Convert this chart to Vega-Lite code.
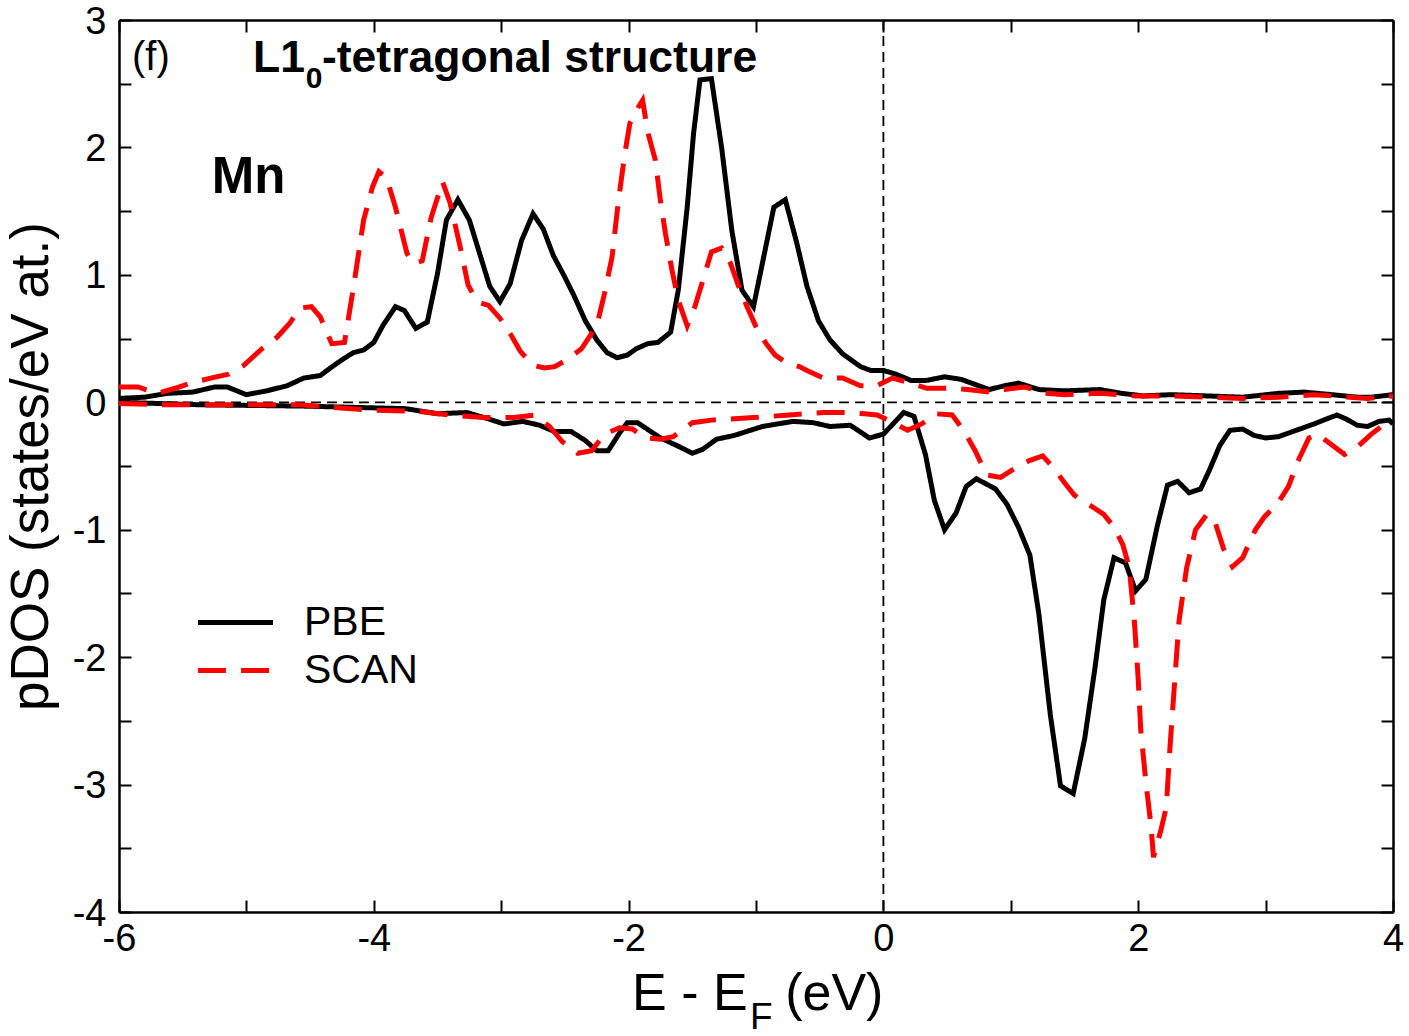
{
  "$schema": "https://vega.github.io/schema/vega-lite/v6.json",
  "width": 1274,
  "height": 892,
  "autosize": {"type": "none"},
  "padding": {"left": 119, "top": 20, "right": 16, "bottom": 124},
  "background": "white",
  "config": {
    "view": {"stroke": null},
    "font": "Liberation Sans",
    "axis": {
      "grid": false,
      "domainColor": "black",
      "domainWidth": 2.5,
      "tickColor": "black",
      "tickWidth": 2,
      "tickSize": -12,
      "labelFont": "Liberation Sans",
      "labelFontSize": 38,
      "labelColor": "black",
      "labelFlush": false,
      "labelOverlap": false,
      "labelBound": false,
      "titleFont": "Liberation Sans",
      "titleFontWeight": "normal",
      "titleColor": "black"
    },
    "legend": {
      "title": null,
      "orient": "none",
      "legendX": 96,
      "legendY": 582,
      "symbolType": "M-2.5,0H2.5",
      "symbolSize": 900,
      "symbolStrokeWidth": 5,
      "labelFont": "Liberation Sans",
      "labelFontSize": 41,
      "labelColor": "black",
      "labelOffset": 48,
      "rowPadding": 6
    }
  },
  "layer": [
    {
      "data": {"values": [{}]},
      "mark": {"type": "rule", "color": "black", "strokeWidth": 1.8, "strokeDash": [10, 6]},
      "encoding": {
        "y": {
          "datum": 0,
          "type": "quantitative",
          "scale": {"domain": [-4, 3], "nice": false, "zero": false},
          "axis": {
            "orient": "right",
            "values": [-4, -3.5, -3, -2.5, -2, -1.5, -1, -0.5, 0, 0.5, 1, 1.5, 2, 2.5, 3],
            "labels": false,
            "title": null
          }
        }
      }
    },
    {
      "data": {"values": [{}]},
      "mark": {"type": "rule", "color": "black", "strokeWidth": 1.8, "strokeDash": [10, 6]},
      "encoding": {
        "x": {
          "datum": 0,
          "type": "quantitative",
          "scale": {"domain": [-6, 4], "nice": false, "zero": false},
          "axis": {
            "orient": "top",
            "values": [-6, -5, -4, -3, -2, -1, 0, 1, 2, 3, 4],
            "labels": false,
            "title": null
          }
        }
      }
    },
    {
      "data": {
        "values": [
          {"E": -6.0, "pdos": 0.03, "method": "PBE", "spin": "up"},
          {"E": -5.8, "pdos": 0.04, "method": "PBE", "spin": "up"},
          {"E": -5.62, "pdos": 0.07, "method": "PBE", "spin": "up"},
          {"E": -5.42, "pdos": 0.08, "method": "PBE", "spin": "up"},
          {"E": -5.25, "pdos": 0.12, "method": "PBE", "spin": "up"},
          {"E": -5.15, "pdos": 0.12, "method": "PBE", "spin": "up"},
          {"E": -5.0, "pdos": 0.06, "method": "PBE", "spin": "up"},
          {"E": -4.84, "pdos": 0.09, "method": "PBE", "spin": "up"},
          {"E": -4.68, "pdos": 0.13, "method": "PBE", "spin": "up"},
          {"E": -4.55, "pdos": 0.19, "method": "PBE", "spin": "up"},
          {"E": -4.42, "pdos": 0.21, "method": "PBE", "spin": "up"},
          {"E": -4.34, "pdos": 0.27, "method": "PBE", "spin": "up"},
          {"E": -4.24, "pdos": 0.34, "method": "PBE", "spin": "up"},
          {"E": -4.16, "pdos": 0.39, "method": "PBE", "spin": "up"},
          {"E": -4.08, "pdos": 0.41, "method": "PBE", "spin": "up"},
          {"E": -4.0, "pdos": 0.47, "method": "PBE", "spin": "up"},
          {"E": -3.93, "pdos": 0.6, "method": "PBE", "spin": "up"},
          {"E": -3.83, "pdos": 0.75, "method": "PBE", "spin": "up"},
          {"E": -3.76, "pdos": 0.72, "method": "PBE", "spin": "up"},
          {"E": -3.67, "pdos": 0.58, "method": "PBE", "spin": "up"},
          {"E": -3.58, "pdos": 0.63, "method": "PBE", "spin": "up"},
          {"E": -3.5, "pdos": 1.01, "method": "PBE", "spin": "up"},
          {"E": -3.43, "pdos": 1.43, "method": "PBE", "spin": "up"},
          {"E": -3.34, "pdos": 1.59, "method": "PBE", "spin": "up"},
          {"E": -3.25, "pdos": 1.43, "method": "PBE", "spin": "up"},
          {"E": -3.17, "pdos": 1.17, "method": "PBE", "spin": "up"},
          {"E": -3.09, "pdos": 0.91, "method": "PBE", "spin": "up"},
          {"E": -3.01, "pdos": 0.79, "method": "PBE", "spin": "up"},
          {"E": -2.93, "pdos": 0.93, "method": "PBE", "spin": "up"},
          {"E": -2.84, "pdos": 1.27, "method": "PBE", "spin": "up"},
          {"E": -2.75, "pdos": 1.48, "method": "PBE", "spin": "up"},
          {"E": -2.67, "pdos": 1.36, "method": "PBE", "spin": "up"},
          {"E": -2.59, "pdos": 1.15, "method": "PBE", "spin": "up"},
          {"E": -2.51, "pdos": 1.0, "method": "PBE", "spin": "up"},
          {"E": -2.43, "pdos": 0.84, "method": "PBE", "spin": "up"},
          {"E": -2.34, "pdos": 0.64, "method": "PBE", "spin": "up"},
          {"E": -2.25, "pdos": 0.49, "method": "PBE", "spin": "up"},
          {"E": -2.17, "pdos": 0.39, "method": "PBE", "spin": "up"},
          {"E": -2.09, "pdos": 0.35, "method": "PBE", "spin": "up"},
          {"E": -2.01, "pdos": 0.37, "method": "PBE", "spin": "up"},
          {"E": -1.94, "pdos": 0.42, "method": "PBE", "spin": "up"},
          {"E": -1.85, "pdos": 0.46, "method": "PBE", "spin": "up"},
          {"E": -1.77, "pdos": 0.47, "method": "PBE", "spin": "up"},
          {"E": -1.67, "pdos": 0.55, "method": "PBE", "spin": "up"},
          {"E": -1.61, "pdos": 0.88, "method": "PBE", "spin": "up"},
          {"E": -1.54, "pdos": 1.53, "method": "PBE", "spin": "up"},
          {"E": -1.49, "pdos": 2.11, "method": "PBE", "spin": "up"},
          {"E": -1.44, "pdos": 2.53, "method": "PBE", "spin": "up"},
          {"E": -1.35, "pdos": 2.54, "method": "PBE", "spin": "up"},
          {"E": -1.27, "pdos": 2.0, "method": "PBE", "spin": "up"},
          {"E": -1.19, "pdos": 1.35, "method": "PBE", "spin": "up"},
          {"E": -1.11, "pdos": 0.88, "method": "PBE", "spin": "up"},
          {"E": -1.02, "pdos": 0.75, "method": "PBE", "spin": "up"},
          {"E": -0.95, "pdos": 1.09, "method": "PBE", "spin": "up"},
          {"E": -0.86, "pdos": 1.53, "method": "PBE", "spin": "up"},
          {"E": -0.77, "pdos": 1.59, "method": "PBE", "spin": "up"},
          {"E": -0.68, "pdos": 1.25, "method": "PBE", "spin": "up"},
          {"E": -0.6, "pdos": 0.91, "method": "PBE", "spin": "up"},
          {"E": -0.51, "pdos": 0.64, "method": "PBE", "spin": "up"},
          {"E": -0.42, "pdos": 0.49, "method": "PBE", "spin": "up"},
          {"E": -0.32, "pdos": 0.38, "method": "PBE", "spin": "up"},
          {"E": -0.25, "pdos": 0.33, "method": "PBE", "spin": "up"},
          {"E": -0.18, "pdos": 0.28, "method": "PBE", "spin": "up"},
          {"E": -0.1, "pdos": 0.25, "method": "PBE", "spin": "up"},
          {"E": 0.0, "pdos": 0.25, "method": "PBE", "spin": "up"},
          {"E": 0.1, "pdos": 0.22, "method": "PBE", "spin": "up"},
          {"E": 0.22, "pdos": 0.17, "method": "PBE", "spin": "up"},
          {"E": 0.33, "pdos": 0.17, "method": "PBE", "spin": "up"},
          {"E": 0.48, "pdos": 0.2, "method": "PBE", "spin": "up"},
          {"E": 0.61, "pdos": 0.18, "method": "PBE", "spin": "up"},
          {"E": 0.72, "pdos": 0.14, "method": "PBE", "spin": "up"},
          {"E": 0.83, "pdos": 0.1, "method": "PBE", "spin": "up"},
          {"E": 0.95, "pdos": 0.13, "method": "PBE", "spin": "up"},
          {"E": 1.06, "pdos": 0.15, "method": "PBE", "spin": "up"},
          {"E": 1.22, "pdos": 0.1, "method": "PBE", "spin": "up"},
          {"E": 1.42, "pdos": 0.09, "method": "PBE", "spin": "up"},
          {"E": 1.7, "pdos": 0.1, "method": "PBE", "spin": "up"},
          {"E": 1.87, "pdos": 0.07, "method": "PBE", "spin": "up"},
          {"E": 2.04, "pdos": 0.05, "method": "PBE", "spin": "up"},
          {"E": 2.26, "pdos": 0.06, "method": "PBE", "spin": "up"},
          {"E": 2.54, "pdos": 0.05, "method": "PBE", "spin": "up"},
          {"E": 2.82, "pdos": 0.04, "method": "PBE", "spin": "up"},
          {"E": 3.1, "pdos": 0.07, "method": "PBE", "spin": "up"},
          {"E": 3.3, "pdos": 0.08, "method": "PBE", "spin": "up"},
          {"E": 3.52, "pdos": 0.06, "method": "PBE", "spin": "up"},
          {"E": 3.72, "pdos": 0.04, "method": "PBE", "spin": "up"},
          {"E": 3.83, "pdos": 0.04, "method": "PBE", "spin": "up"},
          {"E": 4.0, "pdos": 0.06, "method": "PBE", "spin": "up"},

          {"E": -6.0, "pdos": 0.0, "method": "PBE", "spin": "down"},
          {"E": -5.35, "pdos": -0.02, "method": "PBE", "spin": "down"},
          {"E": -4.55, "pdos": -0.03, "method": "PBE", "spin": "down"},
          {"E": -3.75, "pdos": -0.05, "method": "PBE", "spin": "down"},
          {"E": -3.5, "pdos": -0.09, "method": "PBE", "spin": "down"},
          {"E": -3.27, "pdos": -0.08, "method": "PBE", "spin": "down"},
          {"E": -3.1, "pdos": -0.13, "method": "PBE", "spin": "down"},
          {"E": -2.98, "pdos": -0.17, "method": "PBE", "spin": "down"},
          {"E": -2.83, "pdos": -0.15, "method": "PBE", "spin": "down"},
          {"E": -2.7, "pdos": -0.18, "method": "PBE", "spin": "down"},
          {"E": -2.58, "pdos": -0.23, "method": "PBE", "spin": "down"},
          {"E": -2.45, "pdos": -0.23, "method": "PBE", "spin": "down"},
          {"E": -2.34, "pdos": -0.3, "method": "PBE", "spin": "down"},
          {"E": -2.25, "pdos": -0.38, "method": "PBE", "spin": "down"},
          {"E": -2.16, "pdos": -0.38, "method": "PBE", "spin": "down"},
          {"E": -2.07, "pdos": -0.24, "method": "PBE", "spin": "down"},
          {"E": -2.01, "pdos": -0.16, "method": "PBE", "spin": "down"},
          {"E": -1.93, "pdos": -0.16, "method": "PBE", "spin": "down"},
          {"E": -1.75, "pdos": -0.28, "method": "PBE", "spin": "down"},
          {"E": -1.62, "pdos": -0.34, "method": "PBE", "spin": "down"},
          {"E": -1.5, "pdos": -0.4, "method": "PBE", "spin": "down"},
          {"E": -1.42, "pdos": -0.37, "method": "PBE", "spin": "down"},
          {"E": -1.31, "pdos": -0.29, "method": "PBE", "spin": "down"},
          {"E": -1.17, "pdos": -0.26, "method": "PBE", "spin": "down"},
          {"E": -0.95, "pdos": -0.19, "method": "PBE", "spin": "down"},
          {"E": -0.71, "pdos": -0.15, "method": "PBE", "spin": "down"},
          {"E": -0.55, "pdos": -0.16, "method": "PBE", "spin": "down"},
          {"E": -0.42, "pdos": -0.19, "method": "PBE", "spin": "down"},
          {"E": -0.26, "pdos": -0.18, "method": "PBE", "spin": "down"},
          {"E": -0.11, "pdos": -0.28, "method": "PBE", "spin": "down"},
          {"E": 0.0, "pdos": -0.25, "method": "PBE", "spin": "down"},
          {"E": 0.16, "pdos": -0.08, "method": "PBE", "spin": "down"},
          {"E": 0.24, "pdos": -0.11, "method": "PBE", "spin": "down"},
          {"E": 0.33, "pdos": -0.41, "method": "PBE", "spin": "down"},
          {"E": 0.4, "pdos": -0.77, "method": "PBE", "spin": "down"},
          {"E": 0.48, "pdos": -1.0, "method": "PBE", "spin": "down"},
          {"E": 0.57, "pdos": -0.87, "method": "PBE", "spin": "down"},
          {"E": 0.65, "pdos": -0.66, "method": "PBE", "spin": "down"},
          {"E": 0.73, "pdos": -0.6, "method": "PBE", "spin": "down"},
          {"E": 0.88, "pdos": -0.68, "method": "PBE", "spin": "down"},
          {"E": 0.97, "pdos": -0.8, "method": "PBE", "spin": "down"},
          {"E": 1.06, "pdos": -0.98, "method": "PBE", "spin": "down"},
          {"E": 1.15, "pdos": -1.2, "method": "PBE", "spin": "down"},
          {"E": 1.22, "pdos": -1.66, "method": "PBE", "spin": "down"},
          {"E": 1.31, "pdos": -2.45, "method": "PBE", "spin": "down"},
          {"E": 1.39, "pdos": -3.01, "method": "PBE", "spin": "down"},
          {"E": 1.49, "pdos": -3.07, "method": "PBE", "spin": "down"},
          {"E": 1.58, "pdos": -2.64, "method": "PBE", "spin": "down"},
          {"E": 1.66, "pdos": -2.09, "method": "PBE", "spin": "down"},
          {"E": 1.73, "pdos": -1.55, "method": "PBE", "spin": "down"},
          {"E": 1.81, "pdos": -1.22, "method": "PBE", "spin": "down"},
          {"E": 1.9, "pdos": -1.26, "method": "PBE", "spin": "down"},
          {"E": 1.98, "pdos": -1.48, "method": "PBE", "spin": "down"},
          {"E": 2.06, "pdos": -1.39, "method": "PBE", "spin": "down"},
          {"E": 2.15, "pdos": -0.97, "method": "PBE", "spin": "down"},
          {"E": 2.23, "pdos": -0.65, "method": "PBE", "spin": "down"},
          {"E": 2.31, "pdos": -0.62, "method": "PBE", "spin": "down"},
          {"E": 2.4, "pdos": -0.71, "method": "PBE", "spin": "down"},
          {"E": 2.49, "pdos": -0.68, "method": "PBE", "spin": "down"},
          {"E": 2.56, "pdos": -0.53, "method": "PBE", "spin": "down"},
          {"E": 2.64, "pdos": -0.34, "method": "PBE", "spin": "down"},
          {"E": 2.72, "pdos": -0.22, "method": "PBE", "spin": "down"},
          {"E": 2.82, "pdos": -0.21, "method": "PBE", "spin": "down"},
          {"E": 2.91, "pdos": -0.26, "method": "PBE", "spin": "down"},
          {"E": 3.0, "pdos": -0.28, "method": "PBE", "spin": "down"},
          {"E": 3.1, "pdos": -0.27, "method": "PBE", "spin": "down"},
          {"E": 3.24, "pdos": -0.22, "method": "PBE", "spin": "down"},
          {"E": 3.38, "pdos": -0.17, "method": "PBE", "spin": "down"},
          {"E": 3.48, "pdos": -0.13, "method": "PBE", "spin": "down"},
          {"E": 3.56, "pdos": -0.1, "method": "PBE", "spin": "down"},
          {"E": 3.63, "pdos": -0.13, "method": "PBE", "spin": "down"},
          {"E": 3.72, "pdos": -0.18, "method": "PBE", "spin": "down"},
          {"E": 3.8, "pdos": -0.19, "method": "PBE", "spin": "down"},
          {"E": 3.89, "pdos": -0.15, "method": "PBE", "spin": "down"},
          {"E": 3.97, "pdos": -0.14, "method": "PBE", "spin": "down"},
          {"E": 4.0, "pdos": -0.17, "method": "PBE", "spin": "down"},

          {"E": -6.0, "pdos": 0.12, "method": "SCAN", "spin": "up"},
          {"E": -5.85, "pdos": 0.12, "method": "SCAN", "spin": "up"},
          {"E": -5.7, "pdos": 0.07, "method": "SCAN", "spin": "up"},
          {"E": -5.56, "pdos": 0.11, "method": "SCAN", "spin": "up"},
          {"E": -5.44, "pdos": 0.15, "method": "SCAN", "spin": "up"},
          {"E": -5.28, "pdos": 0.19, "method": "SCAN", "spin": "up"},
          {"E": -5.14, "pdos": 0.22, "method": "SCAN", "spin": "up"},
          {"E": -5.02, "pdos": 0.29, "method": "SCAN", "spin": "up"},
          {"E": -4.89, "pdos": 0.41, "method": "SCAN", "spin": "up"},
          {"E": -4.76, "pdos": 0.51, "method": "SCAN", "spin": "up"},
          {"E": -4.66, "pdos": 0.62, "method": "SCAN", "spin": "up"},
          {"E": -4.58, "pdos": 0.74, "method": "SCAN", "spin": "up"},
          {"E": -4.49, "pdos": 0.75, "method": "SCAN", "spin": "up"},
          {"E": -4.42, "pdos": 0.67, "method": "SCAN", "spin": "up"},
          {"E": -4.33, "pdos": 0.46, "method": "SCAN", "spin": "up"},
          {"E": -4.23, "pdos": 0.47, "method": "SCAN", "spin": "up"},
          {"E": -4.16, "pdos": 0.9, "method": "SCAN", "spin": "up"},
          {"E": -4.08, "pdos": 1.43, "method": "SCAN", "spin": "up"},
          {"E": -4.01, "pdos": 1.69, "method": "SCAN", "spin": "up"},
          {"E": -3.96, "pdos": 1.81, "method": "SCAN", "spin": "up"},
          {"E": -3.9, "pdos": 1.76, "method": "SCAN", "spin": "up"},
          {"E": -3.83, "pdos": 1.53, "method": "SCAN", "spin": "up"},
          {"E": -3.74, "pdos": 1.17, "method": "SCAN", "spin": "up"},
          {"E": -3.69, "pdos": 1.09, "method": "SCAN", "spin": "up"},
          {"E": -3.62, "pdos": 1.11, "method": "SCAN", "spin": "up"},
          {"E": -3.55, "pdos": 1.45, "method": "SCAN", "spin": "up"},
          {"E": -3.46, "pdos": 1.73, "method": "SCAN", "spin": "up"},
          {"E": -3.4, "pdos": 1.56, "method": "SCAN", "spin": "up"},
          {"E": -3.32, "pdos": 1.21, "method": "SCAN", "spin": "up"},
          {"E": -3.26, "pdos": 0.92, "method": "SCAN", "spin": "up"},
          {"E": -3.19, "pdos": 0.79, "method": "SCAN", "spin": "up"},
          {"E": -3.1, "pdos": 0.76, "method": "SCAN", "spin": "up"},
          {"E": -3.01, "pdos": 0.66, "method": "SCAN", "spin": "up"},
          {"E": -2.93, "pdos": 0.54, "method": "SCAN", "spin": "up"},
          {"E": -2.85, "pdos": 0.4, "method": "SCAN", "spin": "up"},
          {"E": -2.75, "pdos": 0.29, "method": "SCAN", "spin": "up"},
          {"E": -2.66, "pdos": 0.27, "method": "SCAN", "spin": "up"},
          {"E": -2.58, "pdos": 0.28, "method": "SCAN", "spin": "up"},
          {"E": -2.49, "pdos": 0.33, "method": "SCAN", "spin": "up"},
          {"E": -2.37, "pdos": 0.42, "method": "SCAN", "spin": "up"},
          {"E": -2.25, "pdos": 0.6, "method": "SCAN", "spin": "up"},
          {"E": -2.19, "pdos": 0.85, "method": "SCAN", "spin": "up"},
          {"E": -2.13, "pdos": 1.14, "method": "SCAN", "spin": "up"},
          {"E": -2.08, "pdos": 1.58, "method": "SCAN", "spin": "up"},
          {"E": -2.03, "pdos": 1.95, "method": "SCAN", "spin": "up"},
          {"E": -1.99, "pdos": 2.19, "method": "SCAN", "spin": "up"},
          {"E": -1.94, "pdos": 2.29, "method": "SCAN", "spin": "up"},
          {"E": -1.89, "pdos": 2.37, "method": "SCAN", "spin": "up"},
          {"E": -1.85, "pdos": 2.12, "method": "SCAN", "spin": "up"},
          {"E": -1.79, "pdos": 1.9, "method": "SCAN", "spin": "up"},
          {"E": -1.75, "pdos": 1.58, "method": "SCAN", "spin": "up"},
          {"E": -1.71, "pdos": 1.32, "method": "SCAN", "spin": "up"},
          {"E": -1.66, "pdos": 1.04, "method": "SCAN", "spin": "up"},
          {"E": -1.61, "pdos": 0.8, "method": "SCAN", "spin": "up"},
          {"E": -1.54, "pdos": 0.6, "method": "SCAN", "spin": "up"},
          {"E": -1.48, "pdos": 0.75, "method": "SCAN", "spin": "up"},
          {"E": -1.41, "pdos": 0.98, "method": "SCAN", "spin": "up"},
          {"E": -1.35, "pdos": 1.18, "method": "SCAN", "spin": "up"},
          {"E": -1.27, "pdos": 1.21, "method": "SCAN", "spin": "up"},
          {"E": -1.2, "pdos": 1.09, "method": "SCAN", "spin": "up"},
          {"E": -1.14, "pdos": 0.92, "method": "SCAN", "spin": "up"},
          {"E": -1.07, "pdos": 0.75, "method": "SCAN", "spin": "up"},
          {"E": -0.99, "pdos": 0.57, "method": "SCAN", "spin": "up"},
          {"E": -0.92, "pdos": 0.46, "method": "SCAN", "spin": "up"},
          {"E": -0.85, "pdos": 0.37, "method": "SCAN", "spin": "up"},
          {"E": -0.76, "pdos": 0.31, "method": "SCAN", "spin": "up"},
          {"E": -0.66, "pdos": 0.28, "method": "SCAN", "spin": "up"},
          {"E": -0.6, "pdos": 0.25, "method": "SCAN", "spin": "up"},
          {"E": -0.47, "pdos": 0.19, "method": "SCAN", "spin": "up"},
          {"E": -0.32, "pdos": 0.19, "method": "SCAN", "spin": "up"},
          {"E": -0.18, "pdos": 0.13, "method": "SCAN", "spin": "up"},
          {"E": -0.05, "pdos": 0.13, "method": "SCAN", "spin": "up"},
          {"E": 0.07, "pdos": 0.19, "method": "SCAN", "spin": "up"},
          {"E": 0.18, "pdos": 0.16, "method": "SCAN", "spin": "up"},
          {"E": 0.34, "pdos": 0.11, "method": "SCAN", "spin": "up"},
          {"E": 0.52, "pdos": 0.11, "method": "SCAN", "spin": "up"},
          {"E": 0.66, "pdos": 0.1, "method": "SCAN", "spin": "up"},
          {"E": 0.83, "pdos": 0.08, "method": "SCAN", "spin": "up"},
          {"E": 0.95, "pdos": 0.1, "method": "SCAN", "spin": "up"},
          {"E": 1.11, "pdos": 0.12, "method": "SCAN", "spin": "up"},
          {"E": 1.28, "pdos": 0.07, "method": "SCAN", "spin": "up"},
          {"E": 1.42, "pdos": 0.06, "method": "SCAN", "spin": "up"},
          {"E": 1.7, "pdos": 0.07, "method": "SCAN", "spin": "up"},
          {"E": 1.98, "pdos": 0.05, "method": "SCAN", "spin": "up"},
          {"E": 2.26, "pdos": 0.05, "method": "SCAN", "spin": "up"},
          {"E": 2.54, "pdos": 0.04, "method": "SCAN", "spin": "up"},
          {"E": 2.82, "pdos": 0.03, "method": "SCAN", "spin": "up"},
          {"E": 3.1, "pdos": 0.04, "method": "SCAN", "spin": "up"},
          {"E": 3.38, "pdos": 0.06, "method": "SCAN", "spin": "up"},
          {"E": 3.66, "pdos": 0.04, "method": "SCAN", "spin": "up"},
          {"E": 3.8, "pdos": 0.03, "method": "SCAN", "spin": "up"},
          {"E": 4.0, "pdos": 0.05, "method": "SCAN", "spin": "up"},

          {"E": -6.0, "pdos": -0.01, "method": "SCAN", "spin": "down"},
          {"E": -5.62, "pdos": -0.02, "method": "SCAN", "spin": "down"},
          {"E": -5.1, "pdos": -0.02, "method": "SCAN", "spin": "down"},
          {"E": -4.58, "pdos": -0.02, "method": "SCAN", "spin": "down"},
          {"E": -4.05, "pdos": -0.06, "method": "SCAN", "spin": "down"},
          {"E": -3.66, "pdos": -0.07, "method": "SCAN", "spin": "down"},
          {"E": -3.4, "pdos": -0.1, "method": "SCAN", "spin": "down"},
          {"E": -3.14, "pdos": -0.12, "method": "SCAN", "spin": "down"},
          {"E": -2.9, "pdos": -0.12, "method": "SCAN", "spin": "down"},
          {"E": -2.74, "pdos": -0.1, "method": "SCAN", "spin": "down"},
          {"E": -2.62, "pdos": -0.19, "method": "SCAN", "spin": "down"},
          {"E": -2.52, "pdos": -0.31, "method": "SCAN", "spin": "down"},
          {"E": -2.4, "pdos": -0.4, "method": "SCAN", "spin": "down"},
          {"E": -2.29, "pdos": -0.38, "method": "SCAN", "spin": "down"},
          {"E": -2.19, "pdos": -0.25, "method": "SCAN", "spin": "down"},
          {"E": -2.07, "pdos": -0.2, "method": "SCAN", "spin": "down"},
          {"E": -1.97, "pdos": -0.21, "method": "SCAN", "spin": "down"},
          {"E": -1.87, "pdos": -0.28, "method": "SCAN", "spin": "down"},
          {"E": -1.75, "pdos": -0.29, "method": "SCAN", "spin": "down"},
          {"E": -1.65, "pdos": -0.27, "method": "SCAN", "spin": "down"},
          {"E": -1.5, "pdos": -0.16, "method": "SCAN", "spin": "down"},
          {"E": -1.35, "pdos": -0.14, "method": "SCAN", "spin": "down"},
          {"E": -1.02, "pdos": -0.12, "method": "SCAN", "spin": "down"},
          {"E": -0.74, "pdos": -0.1, "method": "SCAN", "spin": "down"},
          {"E": -0.47, "pdos": -0.08, "method": "SCAN", "spin": "down"},
          {"E": -0.3, "pdos": -0.08, "method": "SCAN", "spin": "down"},
          {"E": -0.15, "pdos": -0.09, "method": "SCAN", "spin": "down"},
          {"E": -0.05, "pdos": -0.1, "method": "SCAN", "spin": "down"},
          {"E": 0.04, "pdos": -0.14, "method": "SCAN", "spin": "down"},
          {"E": 0.19, "pdos": -0.22, "method": "SCAN", "spin": "down"},
          {"E": 0.3, "pdos": -0.17, "method": "SCAN", "spin": "down"},
          {"E": 0.41, "pdos": -0.09, "method": "SCAN", "spin": "down"},
          {"E": 0.54, "pdos": -0.1, "method": "SCAN", "spin": "down"},
          {"E": 0.63, "pdos": -0.22, "method": "SCAN", "spin": "down"},
          {"E": 0.72, "pdos": -0.38, "method": "SCAN", "spin": "down"},
          {"E": 0.81, "pdos": -0.57, "method": "SCAN", "spin": "down"},
          {"E": 0.92, "pdos": -0.59, "method": "SCAN", "spin": "down"},
          {"E": 1.03, "pdos": -0.52, "method": "SCAN", "spin": "down"},
          {"E": 1.14, "pdos": -0.46, "method": "SCAN", "spin": "down"},
          {"E": 1.25, "pdos": -0.42, "method": "SCAN", "spin": "down"},
          {"E": 1.34, "pdos": -0.52, "method": "SCAN", "spin": "down"},
          {"E": 1.42, "pdos": -0.63, "method": "SCAN", "spin": "down"},
          {"E": 1.5, "pdos": -0.73, "method": "SCAN", "spin": "down"},
          {"E": 1.61, "pdos": -0.8, "method": "SCAN", "spin": "down"},
          {"E": 1.73, "pdos": -0.88, "method": "SCAN", "spin": "down"},
          {"E": 1.81, "pdos": -0.98, "method": "SCAN", "spin": "down"},
          {"E": 1.88, "pdos": -1.12, "method": "SCAN", "spin": "down"},
          {"E": 1.93, "pdos": -1.3, "method": "SCAN", "spin": "down"},
          {"E": 1.97, "pdos": -1.72, "method": "SCAN", "spin": "down"},
          {"E": 2.0, "pdos": -2.17, "method": "SCAN", "spin": "down"},
          {"E": 2.02, "pdos": -2.57, "method": "SCAN", "spin": "down"},
          {"E": 2.06, "pdos": -2.98, "method": "SCAN", "spin": "down"},
          {"E": 2.1, "pdos": -3.32, "method": "SCAN", "spin": "down"},
          {"E": 2.12, "pdos": -3.57, "method": "SCAN", "spin": "down"},
          {"E": 2.18, "pdos": -3.35, "method": "SCAN", "spin": "down"},
          {"E": 2.22, "pdos": -3.18, "method": "SCAN", "spin": "down"},
          {"E": 2.25, "pdos": -2.7, "method": "SCAN", "spin": "down"},
          {"E": 2.28, "pdos": -2.28, "method": "SCAN", "spin": "down"},
          {"E": 2.32, "pdos": -1.72, "method": "SCAN", "spin": "down"},
          {"E": 2.38, "pdos": -1.3, "method": "SCAN", "spin": "down"},
          {"E": 2.45, "pdos": -1.0, "method": "SCAN", "spin": "down"},
          {"E": 2.54, "pdos": -0.88, "method": "SCAN", "spin": "down"},
          {"E": 2.6, "pdos": -0.93, "method": "SCAN", "spin": "down"},
          {"E": 2.67, "pdos": -1.15, "method": "SCAN", "spin": "down"},
          {"E": 2.74, "pdos": -1.29, "method": "SCAN", "spin": "down"},
          {"E": 2.82, "pdos": -1.22, "method": "SCAN", "spin": "down"},
          {"E": 2.92, "pdos": -1.0, "method": "SCAN", "spin": "down"},
          {"E": 2.99, "pdos": -0.9, "method": "SCAN", "spin": "down"},
          {"E": 3.09, "pdos": -0.8, "method": "SCAN", "spin": "down"},
          {"E": 3.18, "pdos": -0.66, "method": "SCAN", "spin": "down"},
          {"E": 3.25, "pdos": -0.47, "method": "SCAN", "spin": "down"},
          {"E": 3.34, "pdos": -0.28, "method": "SCAN", "spin": "down"},
          {"E": 3.41, "pdos": -0.25, "method": "SCAN", "spin": "down"},
          {"E": 3.5, "pdos": -0.32, "method": "SCAN", "spin": "down"},
          {"E": 3.62, "pdos": -0.41, "method": "SCAN", "spin": "down"},
          {"E": 3.72, "pdos": -0.35, "method": "SCAN", "spin": "down"},
          {"E": 3.83, "pdos": -0.25, "method": "SCAN", "spin": "down"},
          {"E": 3.92, "pdos": -0.18, "method": "SCAN", "spin": "down"},
          {"E": 3.99, "pdos": -0.15, "method": "SCAN", "spin": "down"}
        ]
      },
      "mark": {"type": "line", "strokeWidth": 5, "strokeJoin": "miter"},
      "encoding": {
        "x": {
          "field": "E",
          "type": "quantitative",
          "scale": {"domain": [-6, 4], "nice": false, "zero": false},
          "axis": {
            "orient": "bottom",
            "values": [-6, -5, -4, -3, -2, -1, 0, 1, 2, 3, 4],
            "labelExpr": "datum.value % 2 == 0 ? datum.value + '' : ''",
            "labelPadding": 20,
            "title": null
          }
        },
        "y": {
          "field": "pdos",
          "type": "quantitative",
          "scale": {"domain": [-4, 3], "nice": false, "zero": false},
          "axis": {
            "orient": "left",
            "values": [-4, -3.5, -3, -2.5, -2, -1.5, -1, -0.5, 0, 0.5, 1, 1.5, 2, 2.5, 3],
            "labelExpr": "datum.value % 1 == 0 ? datum.value + '' : ''",
            "labelPadding": 25,
            "labelOffset": 2,
            "title": "pDOS (states/eV at.)",
            "titleFontSize": 53,
            "titlePadding": 14
          }
        },
        "color": {
          "field": "method",
          "type": "nominal",
          "scale": {"domain": ["PBE", "SCAN"], "range": ["#000000", "#ff0000"]}
        },
        "strokeDash": {
          "field": "method",
          "type": "nominal",
          "scale": {"domain": ["PBE", "SCAN"], "range": [[1, 0], [28, 15]]}
        },
        "detail": {"field": "spin"}
      }
    },
    {
      "data": {"values": [{}]},
      "mark": {"type": "text", "text": "(f)", "fontSize": 40, "align": "left", "baseline": "alphabetic", "color": "black"},
      "encoding": {
        "x": {"datum": -5.898, "type": "quantitative", "axis": null},
        "y": {"datum": 2.608, "type": "quantitative", "axis": null}
      }
    },
    {
      "data": {"values": [{}]},
      "mark": {"type": "text", "text": "L1", "fontSize": 44.5, "fontWeight": "bold", "align": "left", "baseline": "alphabetic", "color": "black"},
      "encoding": {
        "x": {"datum": -4.948, "type": "quantitative", "axis": null},
        "y": {"datum": 2.592, "type": "quantitative", "axis": null}
      }
    },
    {
      "data": {"values": [{}]},
      "mark": {"type": "text", "text": "0", "fontSize": 30, "fontWeight": "bold", "align": "left", "baseline": "alphabetic", "color": "black"},
      "encoding": {
        "x": {"datum": -4.534, "type": "quantitative", "axis": null},
        "y": {"datum": 2.466, "type": "quantitative", "axis": null}
      }
    },
    {
      "data": {"values": [{}]},
      "mark": {"type": "text", "text": "-tetragonal structure", "fontSize": 44.5, "fontWeight": "bold", "align": "left", "baseline": "alphabetic", "color": "black"},
      "encoding": {
        "x": {"datum": -4.407, "type": "quantitative", "axis": null},
        "y": {"datum": 2.592, "type": "quantitative", "axis": null}
      }
    },
    {
      "data": {"values": [{}]},
      "mark": {"type": "text", "text": "Mn", "fontSize": 51, "fontWeight": "bold", "align": "left", "baseline": "alphabetic", "color": "black"},
      "encoding": {
        "x": {"datum": -5.272, "type": "quantitative", "axis": null},
        "y": {"datum": 1.642, "type": "quantitative", "axis": null}
      }
    },
    {
      "data": {"values": [{}]},
      "mark": {"type": "text", "text": "E - E", "fontSize": 52, "align": "left", "baseline": "alphabetic", "color": "black"},
      "encoding": {
        "x": {"datum": -1.973, "type": "quantitative", "axis": null},
        "y": {"datum": -4.771, "type": "quantitative", "axis": null}
      }
    },
    {
      "data": {"values": [{}]},
      "mark": {"type": "text", "text": "F", "fontSize": 37, "align": "left", "baseline": "alphabetic", "color": "black"},
      "encoding": {
        "x": {"datum": -1.047, "type": "quantitative", "axis": null},
        "y": {"datum": -4.915, "type": "quantitative", "axis": null}
      }
    },
    {
      "data": {"values": [{}]},
      "mark": {"type": "text", "text": "(eV)", "fontSize": 52, "align": "right", "baseline": "alphabetic", "color": "black"},
      "encoding": {
        "x": {"datum": 0.0, "type": "quantitative", "axis": null},
        "y": {"datum": -4.771, "type": "quantitative", "axis": null}
      }
    }
  ]
}
